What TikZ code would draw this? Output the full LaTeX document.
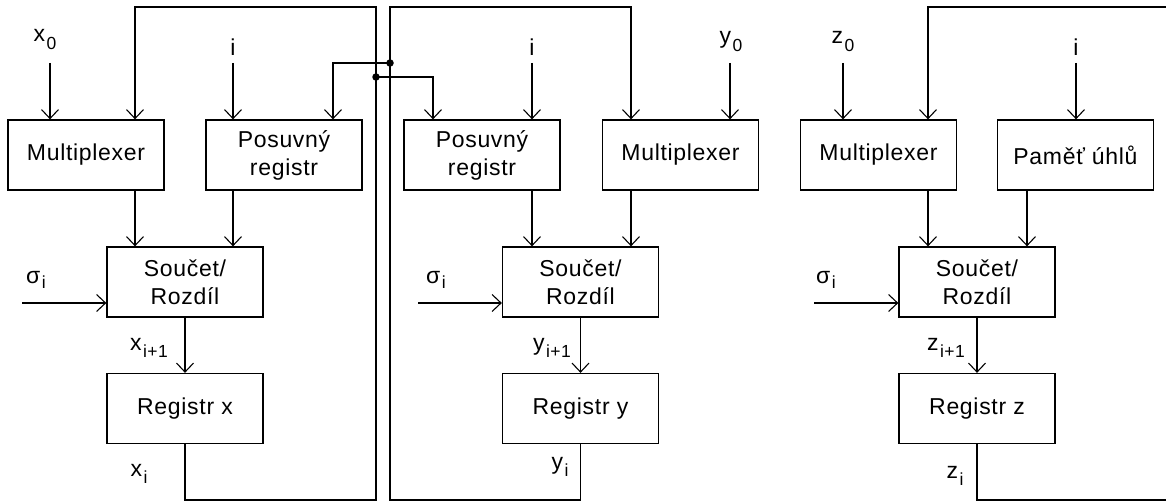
\documentclass[tikz,border=0pt]{standalone}
\usepackage{fontspec}
\setmainfont[LetterSpace=3]{Liberation Sans}
\usetikzlibrary{arrows.meta}
\newcommand{\lab}[3][7pt]{#2\kern1.5pt\raisebox{-#1}{\fontsize{17.5}{17}\selectfont #3}}
\begin{document}
\begin{tikzpicture}[x=1pt,y=-1pt,
  line width=1.3pt,
  arr/.style={-{Straight Barb[length=9pt,width=17pt,line width=1.1pt]}},
  blk/.style={draw,minimum width=156pt,minimum height=70pt,inner sep=0pt,align=center,
    font=\fontsize{23}{28}\selectfont},
  lbl/.style={inner sep=0pt,font=\fontsize{23}{27}\selectfont},
  dot/.style={circle,fill,inner sep=0pt,minimum size=7.5pt}]
\useasboundingbox (0,0) rectangle (1166,502);
% x column
\node[blk] (mx) at (86,155) {Multiplexer};
\node[blk] (px) at (284,155) {Posuvný\\registr};
\node[blk] (sx) at (185,282) {Součet/\\Rozdíl};
\node[blk] (rx) at (185,408.5) {Registr x};
% y column
\node[blk] (py) at (482,155) {Posuvný\\registr};
\node[blk] (my) at (680.5,155) {Multiplexer};
\node[blk] (sy) at (580.5,282) {Součet/\\Rozdíl};
\node[blk] (ry) at (580.5,408.5) {Registr y};
% z column
\node[blk] (mz) at (878.5,155) {Multiplexer};
\node[blk] (pz) at (1075.5,155) {Paměť úhlů};
\node[blk] (sz) at (977,282) {Součet/\\Rozdíl};
\node[blk] (rz) at (977,408.5) {Registr z};
% labels
\node[lbl] (lx0) at (45,40) {\lab[8pt]{x}{0}};
\node[lbl] (li1) at (233,47) {i};
\node[lbl] (li2) at (532,47) {i};
\node[lbl] (ly0) at (731,42) {\lab[8pt]{y}{0}};
\node[lbl] (lz0) at (843,42) {\lab[8pt]{z}{0}};
\node[lbl] (li3) at (1076,47) {i};
\node[lbl] (ls1) at (36,280) {\lab[5pt]{σ}{i}};
\node[lbl] (ls2) at (436,280) {\lab[5pt]{σ}{i}};
\node[lbl] (ls3) at (826,280) {\lab[5pt]{σ}{i}};
\node[lbl] (lx1) at (149,348) {\lab{x}{i+1}};
\node[lbl] (ly1) at (552,348) {\lab{y}{i+1}};
\node[lbl] (lz1) at (946,348) {\lab{z}{i+1}};
\node[lbl] (lxi) at (139,474) {\lab{x}{i}};
\node[lbl] (lyi) at (560,467) {\lab{y}{i}};
\node[lbl] (lzi) at (955,476) {\lab{z}{i}};
% inputs
\draw[arr] (50,63) -- (mx.north -| 50,0);
\draw[arr] (233,63) -- (px.north -| 233,0);
\draw[arr] (532,63) -- (py.north -| 532,0);
\draw[arr] (730,63) -- (my.north -| 730,0);
\draw[arr] (843,63) -- (mz.north -| 843,0);
\draw[arr] (1076,63) -- (pz.north -| 1076,0);
\draw[arr] (22,303) -- (sx.west |- 0,303);
\draw[arr] (418,303) -- (sy.west |- 0,303);
\draw[arr] (814,303) -- (sz.west |- 0,303);
% inner connections
\draw[arr] (mx.south -| 135,0) -- (sx.north -| 135,0);
\draw[arr] (px.south -| 233,0) -- (sx.north -| 233,0);
\draw[arr] (sx.south) -- (rx.north);
\draw[arr] (py.south -| 532,0) -- (sy.north -| 532,0);
\draw[arr] (my.south -| 631,0) -- (sy.north -| 631,0);
\draw[arr] (sy.south) -- (ry.north);
\draw[arr] (mz.south -| 928,0) -- (sz.north -| 928,0);
\draw[arr] (pz.south -| 1027,0) -- (sz.north -| 1027,0);
\draw[arr] (sz.south) -- (rz.north);
% feedback
\coordinate (jx) at (376,77);
\coordinate (jy) at (390,63);
\draw[arr] (rx.south) -- (rx.south |- 0,500) -- (376,500) -- (376,7) -- (135,7) -- (mx.north -| 135,0);
\draw[arr] (jx) -- (433,77) -- (py.north -| 433,0);
\draw[arr] (ry.south) -- (ry.south |- 0,500) -- (390,500) -- (390,7) -- (631,7) -- (my.north -| 631,0);
\draw[arr] (jy) -- (333,63) -- (px.north -| 333,0);
\node[dot] at (jx) {};
\node[dot] at (jy) {};
\draw[arr] (1167,7) -- (928,7) -- (mz.north -| 928,0);
\draw (rz.south) -- (rz.south |- 0,500) -- (1167,500);
\end{tikzpicture}
\end{document}
